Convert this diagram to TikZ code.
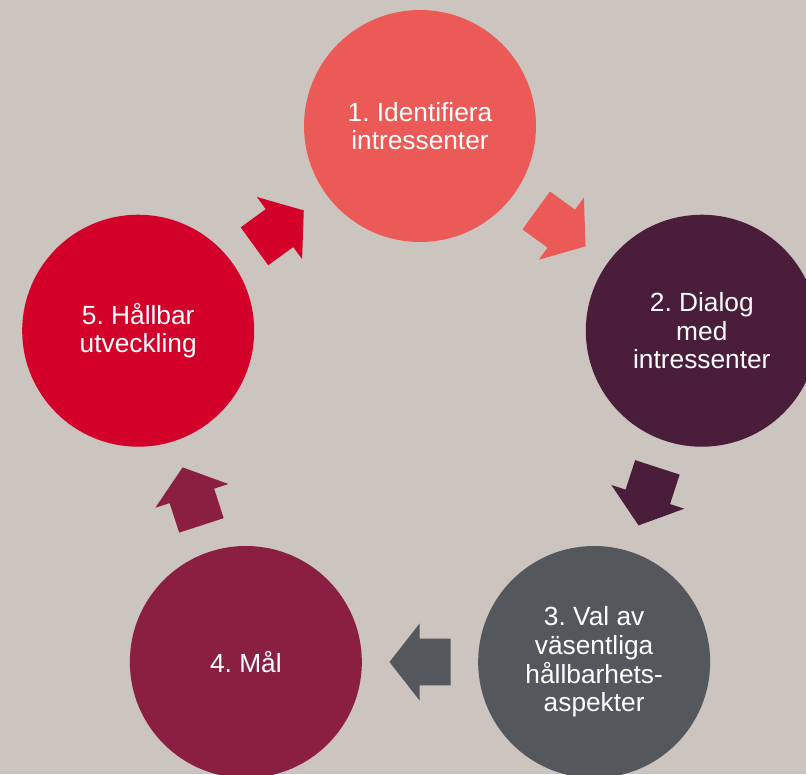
\documentclass[tikz,border=0pt]{standalone}
\usepackage{fontspec}
\setmainfont{Liberation Sans}
\frenchspacing
\definecolor{bgc}{HTML}{CCC4BE}
\definecolor{cA}{HTML}{EC5A57}
\definecolor{cB}{HTML}{4A1E3A}
\definecolor{cC}{HTML}{54575C}
\definecolor{cD}{HTML}{8A1F41}
\definecolor{cE}{HTML}{D3002A}
\begin{document}
\begin{tikzpicture}[x=1pt,y=1pt,
  stage/.style={circle, minimum size=232pt, inner sep=0pt, align=center,
    text=white, font=\fontsize{26.3}{28.6}\selectfont\frenchspacing},
  barrow/.pic={\fill[pic actions] (-30.5,-23.4) -- (0.5,-23.4) -- (0.5,-38.4)
    -- (30.5,0) -- (0.5,38.4) -- (0.5,23.4) -- (-30.5,23.4) -- cycle;}
]
\useasboundingbox (0,0) rectangle (806,774);
\clip (0,0) rectangle (806,774);
\fill[bgc] (0,0) rectangle (806,774);
\coordinate (O) at (420,351.7);
\node[stage, fill=cA] (s1) at ([shift={(90:296.3)}]O) {1. Identifiera\\intressenter};
\node[stage, fill=cB] (s2) at ([shift={(18:296.3)}]O) {2. Dialog\\med\\intressenter};
\node[stage, fill=cC] (s3) at ([shift={(-54:296.3)}]O) {3. Val av\\väsentliga\\hållbarhets-\\aspekter};
\node[stage, fill=cD] (s4) at ([shift={(-126:296.3)}]O) {4. Mål};
\node[stage, fill=cE] (s5) at ([shift={(162:296.3)}]O) {5. Hållbar\\utveckling};
\pic[fill=cA, rotate=-36] (a12) at ([shift={(54:239.7)}]O) {barrow};
\pic[fill=cB, rotate=-108] (a23) at ([shift={(-18:239.7)}]O) {barrow};
\pic[fill=cC, rotate=180] (a34) at ([shift={(-90:239.7)}]O) {barrow};
\pic[fill=cD, rotate=108] (a45) at ([shift={(-162:239.7)}]O) {barrow};
\pic[fill=cE, rotate=36] (a51) at ([shift={(126:239.7)}]O) {barrow};
\end{tikzpicture}
\end{document}
